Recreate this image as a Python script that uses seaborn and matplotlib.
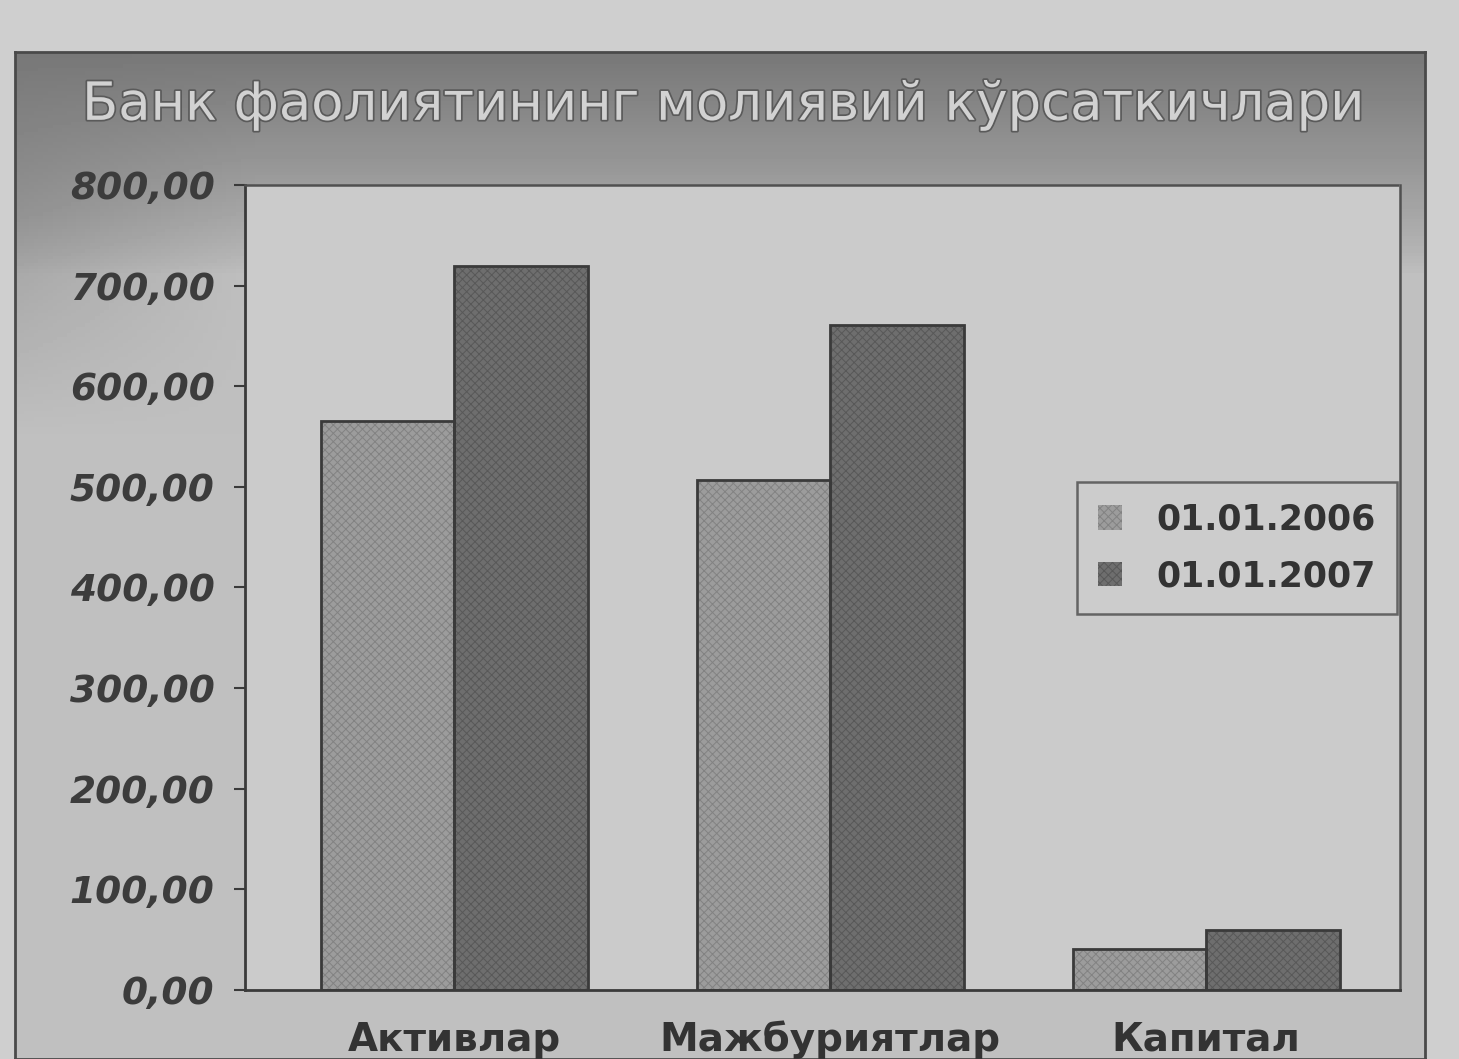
import numpy as np
import pandas as pd
import seaborn as sns
import matplotlib.pyplot as plt
import matplotlib.patheffects as pe
from matplotlib.patches import Rectangle, Patch
from matplotlib.ticker import FuncFormatter

categories = ["Активлар", "Мажбуриятлар", "Капитал"]
series_names = ["01.01.2006", "01.01.2007"]
values_2006 = [565, 507, 41]
values_2007 = [720, 661, 60]
y_ticks = [0, 100, 200, 300, 400, 500, 600, 700, 800]
title = "Банк фаолиятининг молиявий кўрсаткичлари"

df = pd.DataFrame({
    "category": categories * 2,
    "date": [series_names[0]] * 3 + [series_names[1]] * 3,
    "value": values_2006 + values_2007,
})

sns.set_theme(style="white")
plt.rcParams['font.family'] = ['DejaVu Sans']
plt.rcParams['hatch.linewidth'] = 0.7

fig = plt.figure(figsize=(14.59, 10.59), dpi=100)
fig.patch.set_facecolor('#cfcfcf')

# framed panel, darker band under the title and a soft shade at the top left
bg = fig.add_axes([0.0103, 0.0, 0.9664, 0.951])
yy, xx = np.mgrid[0:1:300j, 0:1:300j]
top_shade = np.clip((yy - 0.78) / 0.22, 0, 1) ** 0.8
left_shade = np.clip((0.17 - xx) / 0.17, 0, 1) * np.clip((yy - 0.62) / 0.22, 0, 1)
shade = 0.75 - 0.28 * top_shade - 0.12 * left_shade * (1 - top_shade)
bg.imshow(shade, cmap='gray', vmin=0, vmax=1, origin='lower', aspect='auto',
          extent=[0, 1, 0, 1])
bg.set_xticks([])
bg.set_yticks([])
for s in bg.spines.values():
    s.set_color('#4a4a4a')
    s.set_linewidth(2)

fig.text(0.495, 0.901, title, ha='center', va='center', fontsize=38,
         color='#d2d2d2',
         path_effects=[pe.withStroke(linewidth=2.5, foreground='#5a5a5a')])

ax = fig.add_axes([0.168, 0.0652, 0.7916, 0.7601])
ax.set_facecolor('#cbcbcb')
sns.barplot(data=df, x="category", y="value", hue="date", order=categories,
            hue_order=series_names, palette=['#9c9c9c', '#6e6e6e'],
            width=0.71, ax=ax)

hatch_colors = ['#828282', '#585858']
for cont, hc in zip(ax.containers, hatch_colors):
    for p in cont:
        p.set_hatch('xxxx')
        p.set_edgecolor(hc)
        p.set_linewidth(0)
        ax.add_patch(Rectangle(p.get_xy(), p.get_width(), p.get_height(),
                               fill=False, ec='#3a3a3a', lw=2, zorder=3))

ax.set_xlim(-0.556, 2.516)
ax.set_ylim(0, 800)
ax.set_yticks(y_ticks)
ax.yaxis.set_major_formatter(FuncFormatter(lambda v, _: f"{v:.2f}".replace('.', ',')))
ax.set_xlabel("")
ax.set_ylabel("")
ax.tick_params(axis='y', which='major', left=True, length=8, width=1.5,
               color='#3a3a3a', pad=14)
ax.tick_params(axis='x', bottom=False, pad=16)
for lab in ax.get_yticklabels():
    lab.set_fontsize(27)
    lab.set_fontweight('heavy')
    lab.set_fontstyle('italic')
    lab.set_color('#3c3c3c')
for lab in ax.get_xticklabels():
    lab.set_fontsize(28)
    lab.set_fontweight('bold')
    lab.set_color('#333333')

for side in ['top', 'right']:
    ax.spines[side].set_linestyle((0, (2, 1)))
    ax.spines[side].set_color('#505050')
    ax.spines[side].set_linewidth(1.8)
for side in ['left', 'bottom']:
    ax.spines[side].set_color('#3a3a3a')
    ax.spines[side].set_linewidth(2)

ax.get_legend().remove()
handles = [Patch(facecolor=c, edgecolor=hc, hatch='xxxx', lw=0)
           for c, hc in zip(['#9c9c9c', '#6e6e6e'], hatch_colors)]
leg = fig.legend(handles=handles, labels=series_names, loc='upper left',
                 bbox_to_anchor=(0.738, 0.545), bbox_transform=fig.transFigure,
                 borderaxespad=0, frameon=True, fancybox=False,
                 handlelength=0.7, handleheight=0.7, handletextpad=1.0,
                 labelspacing=0.65, borderpad=0.6,
                 prop={'weight': 'bold', 'size': 25})
leg.get_frame().set_facecolor('#cdcdcd')
leg.get_frame().set_edgecolor('#4a4a4a')
leg.get_frame().set_linewidth(1.8)
for t in leg.get_texts():
    t.set_color('#333333')

fig.savefig("out.png", dpi=100, facecolor=fig.get_facecolor())
